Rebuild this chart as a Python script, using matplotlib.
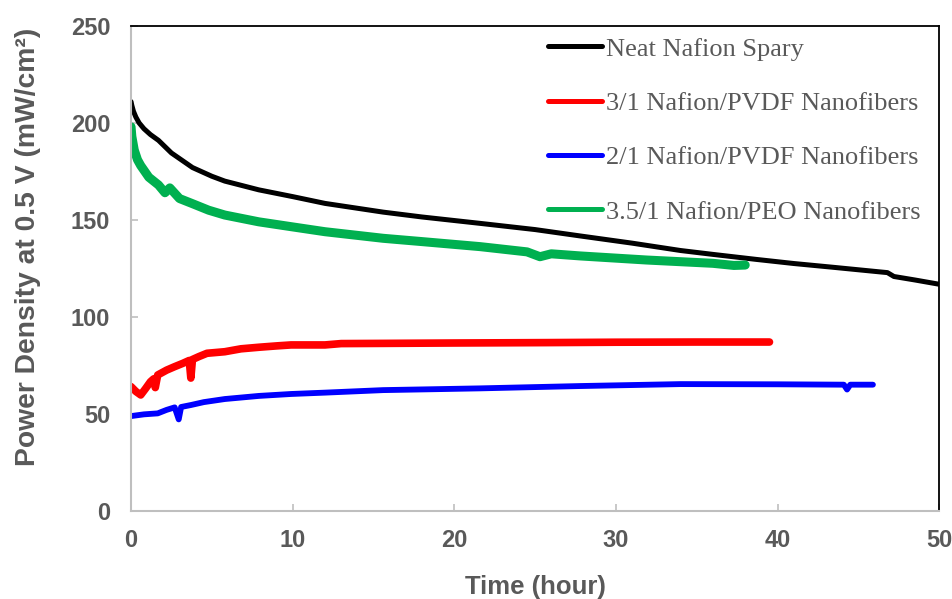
import numpy as np
import matplotlib
matplotlib.use("Agg")
import matplotlib.pyplot as plt

# values (hour, mW/cm2)
neat_t = [0, 0.05, 0.15, 0.3, 0.5, 0.8, 1.2, 1.7, 2.5, 3.8, 5, 5.8, 7.9, 10, 12, 14, 15.6, 18,
          21.6, 25, 27.8, 31, 34, 36, 38.7, 41, 43.5, 46.3, 46.8, 47.2, 48.5, 50]
neat_p = [211, 209, 206, 203, 200, 197, 194, 191, 184.5, 177, 172.5, 170, 165.5, 162, 158.5, 156, 154, 151.5,
          148.2, 145, 141.7, 138, 134.2, 132.2, 129.6, 127.5, 125.5, 123.2, 122.8, 120.8, 119, 116.8]

pvdf31_t = [0, 0.3, 0.6, 0.9, 1.2, 1.4, 1.5, 1.65, 2.2, 2.7, 3.2, 3.6, 3.7, 3.8, 4.2, 4.7,
            5.8, 6.8, 7.9, 9, 9.9, 12, 13, 15.6, 20, 25.7, 30, 35, 39.5]
pvdf31_p = [64, 61.5, 59.7, 63, 66.5, 68, 63.5, 70, 72.5, 74.3, 76, 77.5, 68.4, 78, 79.5, 81.2,
            82, 83.5, 84.3, 85, 85.5, 85.5, 86.2, 86.3, 86.5, 86.7, 86.9, 87, 87]

pvdf21_t = [0, 0.8, 1.65, 2.2, 2.7, 2.95, 3.1, 3.7, 4.5, 5.8, 7.9, 9.9, 12, 15.6,
            18.3, 21.6, 27.8, 34, 40, 44.1, 44.3, 44.5, 45.9]
pvdf21_p = [48.8, 49.7, 50.2, 52, 53.3, 47.1, 53.5, 54.5, 56, 57.6, 59.2, 60.2, 60.9, 62.2,
            62.6, 63.1, 64.3, 65.3, 65.2, 65, 62.5, 65, 65]

peo_t = [0, 0.05, 0.2, 0.4, 0.6, 1.1, 1.7, 2.1, 2.4, 3, 3.76, 4.8, 5.8, 7.9, 9.9, 12, 15.6,
         18, 21.6, 24.5, 25.3, 26, 27.8, 31.9, 36, 37.3, 38]
peo_p = [198, 193, 186, 181, 178, 172, 168, 164, 166.5, 161, 158.5, 155, 152.5, 149, 146.5, 143.9, 140.5,
         138.8, 136.2, 133.5, 131, 132.5, 131.4, 129.3, 127.6, 126.5, 126.7]

series = [
    ("Neat Nafion Spary", neat_t, neat_p, "#000000", 3.6),
    ("3/1 Nafion/PVDF Nanofibers", pvdf31_t, pvdf31_p, "#ff0000", 5.5),
    ("2/1 Nafion/PVDF Nanofibers", pvdf21_t, pvdf21_p, "#0000ff", 4.2),
    ("3.5/1 Nafion/PEO Nanofibers", peo_t, peo_p, "#00b050", 6.5),
]

grey = "#595959"
fig = plt.figure(figsize=(9.53, 5.99), dpi=100)
ax = fig.add_axes([0.1375, 0.1474, 0.848, 0.8092])

for label, t, p, color, lw in series:
    ax.plot(t, p, color=color, lw=lw, label=label, solid_capstyle="round",
            solid_joinstyle="round")

ax.set_xlim(0, 50)
ax.set_ylim(0, 250)
ax.set_xticks(np.arange(0, 51, 10))
ax.set_yticks(np.arange(0, 251, 50))

for side in ["left", "bottom"]:
    ax.spines[side].set_color("#bfbfbf")
    ax.spines[side].set_linewidth(1.5)
for side in ["top", "right"]:
    ax.spines[side].set_color("#000000")
    ax.spines[side].set_linewidth(1.3)

ax.tick_params(direction="in", length=5, width=1.2, color="#bfbfbf",
               labelcolor=grey, labelsize=17, pad=15)
ax.tick_params(axis="x", pad=13)
for lab in ax.get_xticklabels() + ax.get_yticklabels():
    lab.set_fontfamily("Liberation Sans")
    lab.set_fontweight("bold")

ax.set_xlabel("Time (hour)", fontsize=18.5, fontweight="bold", color=grey,
              family="Liberation Sans", labelpad=17)
ax.set_ylabel("Power Density at 0.5 V (mW/cm²)", fontsize=20.3, fontweight="bold",
              color=grey, family="Liberation Sans")
ax.yaxis.set_label_coords(-0.111, 0.544)

leg = ax.legend(loc="upper left", bbox_to_anchor=(0.516, 0.977), frameon=False,
                handlelength=2.05, handletextpad=0.15, labelspacing=1.17,
                borderpad=0, borderaxespad=0,
                prop={"family": "Liberation Serif", "size": 19})
for txt in leg.get_texts():
    txt.set_color(grey)
for line in leg.get_lines():
    line.set_linewidth(3.6)

fig.savefig("out.png", dpi=100)
